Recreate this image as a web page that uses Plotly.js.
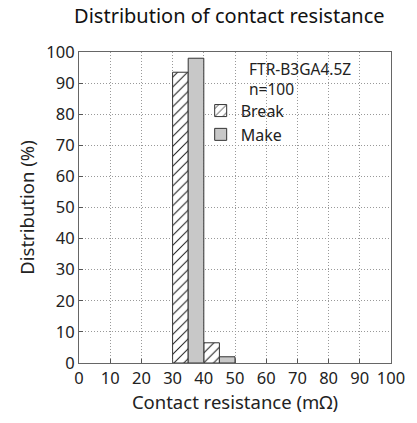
<!DOCTYPE html>
<html><head><meta charset="utf-8">
<script src="https://cdn.plot.ly/plotly-3.0.1.min.js"></script>
<style>html,body{margin:0;padding:0;background:#fff}</style>
</head><body>
<div id="chart" style="width:417px;height:423px"></div>
<script>
const binCenters = [35, 45];
const breakPct = [93.5, 6.5];
const makePct = [98, 2];
const tickVals = [0,10,20,30,40,50,60,70,80,90,100];
const FONT = "Noto Sans, sans-serif";

const traces = [
  {type:'bar', name:'Break', x:binCenters, y:breakPct,
   marker:{color:'#ffffff', line:{color:'#333', width:1},
     pattern:{shape:'/', fgcolor:'#222', bgcolor:'#ffffff', size:7, solidity:0.15}}},
  {type:'bar', name:'Make', x:binCenters, y:makePct,
   marker:{color:'#c8c8c8', line:{color:'#333', width:1}}}
];
const axisCommon = {range:[0,100], tickvals:tickVals, ticks:'inside', ticklen:4, tickcolor:'#555',
  showline:true, linecolor:'#666', linewidth:1, mirror:true,
  showgrid:true, gridcolor:'#999', griddash:'1px,2px', gridwidth:1, zeroline:false,
  tickfont:{family:FONT, size:16.5, color:'#222'}};
const layout = {
  width:417, height:423,
  margin:{l:79, r:26, t:52, b:60},
  paper_bgcolor:'#fff', plot_bgcolor:'#fff',
  barmode:'group', bargap:0, bargroupgap:0,
  font:{family:FONT, color:'#222'},
  title:{text:'Distribution of contact resistance', font:{family:FONT, size:20, color:'#111'},
    x:0.55, xanchor:'center', y:0.962, yanchor:'middle'},
  xaxis:Object.assign({}, axisCommon, {title:{text:'Contact resistance (mΩ)', font:{family:FONT,size:18.5}, standoff:4}}),
  yaxis:Object.assign({}, axisCommon, {title:{text:'Distribution (%)', font:{family:FONT,size:18.5}, standoff:6}}),
  showlegend:true,
  legend:{x:0.39, y:0.866, xanchor:'left', yanchor:'top', bgcolor:'rgba(0,0,0,0)',
    font:{family:FONT, size:16}, itemwidth:30},
  annotations:[
    {xref:'paper', yref:'paper', x:0.54, y:0.987, xanchor:'left', yanchor:'top', showarrow:false,
     align:'left', text:'FTR-B3GA4.5Z<br>n=100', font:{family:FONT, size:15.5, color:'#222'}}
  ]
};
Plotly.newPlot('chart', traces, layout, {staticPlot:true});
</script>
</body></html>
